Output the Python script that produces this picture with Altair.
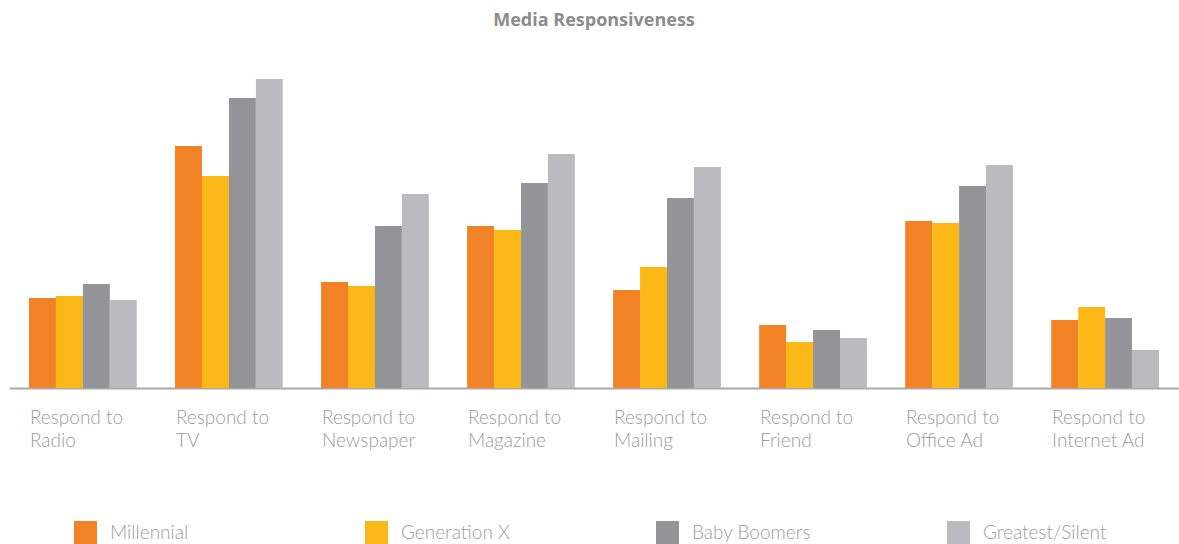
import altair as alt
import pandas as pd

categories = [
    "Respond to Radio", "Respond to TV", "Respond to Newspaper", "Respond to Magazine",
    "Respond to Mailing", "Respond to Friend", "Respond to Office Ad", "Respond to Internet Ad",
]
series = ["Millennial", "Generation X", "Baby Boomers", "Greatest/Silent"]
millennial = [90, 242, 106, 162, 98, 63, 167, 68]
generation_x = [92, 212, 102, 158, 121, 46, 165, 81]
baby_boomers = [104, 290, 162, 205, 190, 58, 202, 70]
greatest_silent = [88, 309, 194, 234, 221, 50, 223, 38]
colors = ["#F28226", "#FBB817", "#939598", "#BABBBF"]

rows = []
for s, vals in zip(series, [millennial, generation_x, baby_boomers, greatest_silent]):
    for c, v in zip(categories, vals):
        rows.append({"category": c, "generation": s, "value": v})
df = pd.DataFrame(rows)

chart = alt.Chart(df).mark_bar().encode(
    x=alt.X(
        "category:N", sort=categories, title=None,
        scale=alt.Scale(paddingInner=0.262, paddingOuter=0.137),
        axis=alt.Axis(
            labelAngle=0, labelAlign="left", ticks=False, labelOffset=-53,
            domainColor="#A7A9AC", domainWidth=2, labelColor="#9B9B9B",
            labelFont="Lato", labelFontSize=19, labelFontWeight=300,
            labelPadding=20, labelLineHeight=23,
            labelExpr="['Respond to', slice(datum.label, 11)]",
        ),
    ),
    xOffset=alt.XOffset("generation:N", sort=series, scale=alt.Scale(paddingInner=0, paddingOuter=0)),
    y=alt.Y("value:Q", axis=None, scale=alt.Scale(domain=[0, 348])),
    color=alt.Color(
        "generation:N", sort=series,
        scale=alt.Scale(domain=series, range=colors),
        legend=alt.Legend(
            title=None, orient="none", direction="horizontal", columns=4,
            legendX=65, legendY=481, gridAlign="all", columnPadding=131,
            symbolType="square", symbolSize=529, symbolStrokeWidth=0,
            labelFont="Lato", labelFontSize=19, labelFontWeight=300,
            labelColor="#9B9B9B", labelOffset=13, padding=0, labelLimit=300,
        ),
    ),
).properties(
    width=1170, height=348,
    title=alt.TitleParams(
        "Media Responsiveness", font="Open Sans", fontSize=18, fontWeight="bold",
        color="#8C8C8E", anchor="middle", offset=10,
    ),
    padding={"left": 9, "top": 40, "right": 0, "bottom": 156},
    autosize="none",
).configure_view(stroke=None)

chart.save("out.html", embed_options={"renderer": "svg", "actions": False})
